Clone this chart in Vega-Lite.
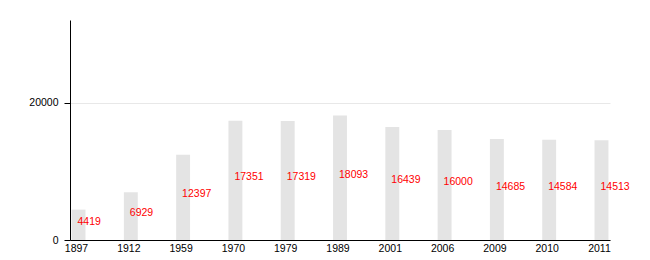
{
  "$schema": "https://vega.github.io/schema/vega-lite/v6.json",
  "autosize": {"type": "none"},
  "width": 540,
  "height": 220,
  "padding": {"left": 70, "top": 20, "right": 40, "bottom": 20},
  "background": "white",
  "config": {
    "view": {"stroke": null},
    "font": "Liberation Sans",
    "axis": {"labelFont": "Liberation Sans", "labelColor": "#000000", "labelFontSize": 10.5}
  },
  "data": {
    "values": [
      {"year": "1897", "population": 4419},
      {"year": "1912", "population": 6929},
      {"year": "1959", "population": 12397},
      {"year": "1970", "population": 17351},
      {"year": "1979", "population": 17319},
      {"year": "1989", "population": 18093},
      {"year": "2001", "population": 16439},
      {"year": "2006", "population": 16000},
      {"year": "2009", "population": 14685},
      {"year": "2010", "population": 14584},
      {"year": "2011", "population": 14513}
    ]
  },
  "encoding": {
    "x": {
      "field": "year",
      "type": "ordinal",
      "sort": null,
      "scale": {"paddingInner": 0.734, "paddingOuter": 0.03},
      "axis": {
        "title": null,
        "labelAngle": 0,
        "ticks": false,
        "labelPadding": 3,
        "labelOffset": -2,
        "domainColor": "#000000",
        "domainWidth": 1,
        "grid": false
      }
    }
  },
  "layer": [
    {
      "mark": {"type": "bar", "color": "#e4e4e4"},
      "encoding": {
        "y": {
          "field": "population",
          "type": "quantitative",
          "scale": {"domain": [0, 32000], "nice": false},
          "axis": {
            "title": null,
            "values": [0, 20000],
            "format": "d",
            "tickColor": "#000000",
            "tickSize": 6,
            "labelPadding": 6,
            "domainColor": "#000000",
            "grid": true,
            "gridColor": "#e8e8e8"
          }
        }
      }
    },
    {
      "mark": {"type": "text", "color": "#ff0000", "align": "left", "baseline": "alphabetic", "fontSize": 10.5, "dx": -1},
      "encoding": {
        "y": {
          "field": "population",
          "type": "quantitative",
          "scale": {"domain": [0, 64000], "nice": false},
          "axis": null
        },
        "text": {"field": "population", "type": "quantitative", "format": "d"}
      }
    }
  ],
  "resolve": {"scale": {"y": "independent"}}
}
